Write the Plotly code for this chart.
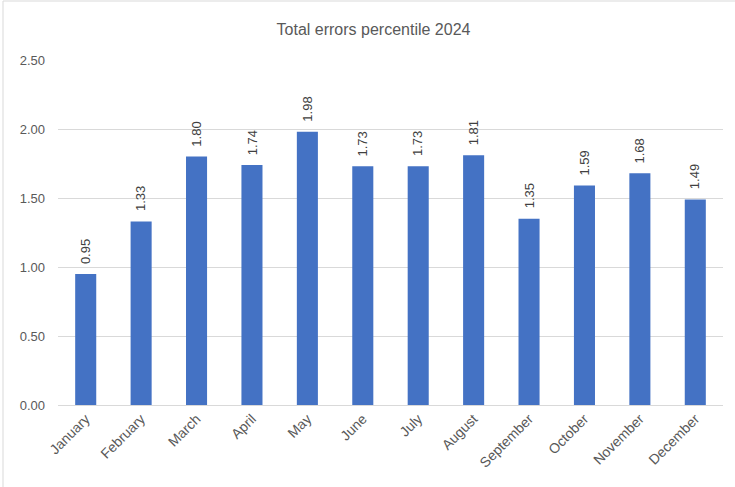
import plotly.graph_objects as go

months = ["January", "February", "March", "April", "May", "June",
          "July", "August", "September", "October", "November", "December"]
errors = [0.95, 1.33, 1.80, 1.74, 1.98, 1.73, 1.73, 1.81, 1.35, 1.59, 1.68, 1.49]
y_ticks = [0.0, 0.5, 1.0, 1.5, 2.0, 2.5]

W, H = 735, 487
ML, MR, MT, MB = 58, 12, 60, 82
pw, ph = W - ML - MR, H - MT - MB
FONT = "Liberation Sans"

fig = go.Figure(go.Bar(
    x=months,
    y=errors,
    marker=dict(color="#4472C4", line=dict(width=0)),
    width=0.38,
    hoverinfo="x+y",
))

# value labels, rotated, sitting a little above each bar
for m, v in zip(months, errors):
    fig.add_annotation(x=m, y=v, text=f"{v:.2f}", textangle=-90,
                       showarrow=False, xanchor="center", yanchor="bottom",
                       yshift=8,
                       font=dict(family=FONT, size=13, color="#404040"))

# thin chart frame
fig.add_shape(type="rect", xref="paper", yref="paper",
              x0=(3 - ML) / pw, x1=(W + 5 - ML) / pw,
              y0=-(MB + 5) / ph, y1=(H - MB - 1) / ph,
              line=dict(color="#d9d9d9", width=1), fillcolor="rgba(0,0,0,0)",
              layer="below")

fig.update_layout(
    width=W, height=H,
    margin=dict(l=ML, r=MR, t=MT, b=MB),
    paper_bgcolor="white", plot_bgcolor="white",
    title=dict(text="Total errors percentile 2024", x=373.5 / W, xanchor="center",
               y=1 - 29 / H, yanchor="middle",
               font=dict(family=FONT, size=16, color="#595959")),
    showlegend=False,
    font=dict(family=FONT, size=13, color="#595959"),
    xaxis=dict(tickangle=-45, showgrid=False, showline=False, ticks="",
               ticklabelstandoff=2,
               tickfont=dict(size=14, color="#595959")),
    yaxis=dict(range=[0, 2.5], tickvals=y_ticks, tickformat=".2f",
               showgrid=True, gridcolor="#d9d9d9", gridwidth=1,
               zeroline=True, zerolinecolor="#d9d9d9", zerolinewidth=1,
               showline=False, ticks="", ticklabelstandoff=12,
               tickfont=dict(size=13, color="#595959")),
)

fig.write_html("out.html")
